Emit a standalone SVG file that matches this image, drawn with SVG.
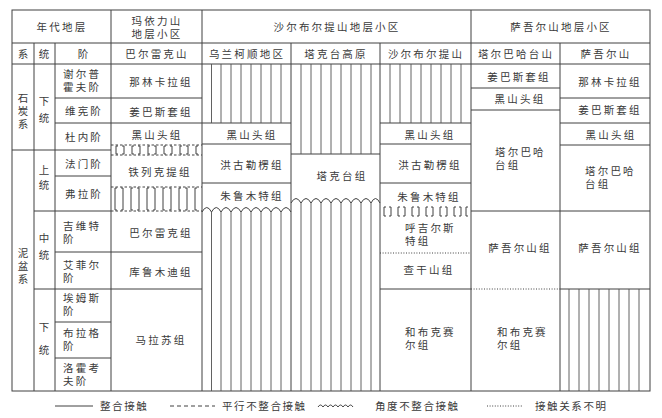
<svg xmlns="http://www.w3.org/2000/svg" width="662" height="418" viewBox="0 0 662 418">
<style>
.t{font-family:"Liberation Serif","Noto Sans CJK SC","Noto Sans CJK JP",serif;font-size:10.5px;fill:#3a3a3a;letter-spacing:2.2px}
.m{text-anchor:middle}
.lg{letter-spacing:1.6px}
.ln{stroke:#404040;stroke-width:1;fill:none}
.h{stroke:#505050;stroke-width:0.9;fill:none}
.d{stroke:#404040;stroke-width:1;stroke-dasharray:2.5 2;fill:none}
.o{stroke:#404040;stroke-width:1;stroke-dasharray:1 1.6;fill:none}
</style>
<rect width="662" height="418" fill="#fff"/>
<g id="connectors">
  <rect class="ln" x="12" y="10" width="638" height="381"/>
  <path class="ln" d="M12,43H650M12,64H650M34,43V391M55,43V391M111,10V391M202,10V391M291,43V391M380,43V391M471,10V391M560,43V391"/>
  <path class="ln" d="M55,98H202M55,123H202M12,150H111M55,176H111M34,211H111M55,252H202M34,289H202M55,322H111M55,358H111"/>
  <path class="d" d="M111,145H202M111,155H202M111,187H202M111,211H202"/>
  <path class="ln" d="M118,146H116V154H118M122,146H124V154H122M134,146H132V154H134M138,146H140V154H138M150,146H148V154H150M154,146H156V154H154M166,146H164V154H166M170,146H172V154H170M182,146H180V154H182M186,146H188V154H186M198,146H196V154H198"/>
  <path class="ln" d="M117,188H115V210H117M121,188H123V210H121M133,188H131V210H133M137,188H139V210H137M149,188H147V210H149M153,188H155V210H153M165,188H163V210H165M169,188H171V210H169M181,188H179V210H181M185,188H187V210H185M197,188H195V210H197"/>
  <path class="ln" d="M202,123H291M202,144H291M202,183H291"/>
  <path class="h" d="M211.5,64V123M221,64V123M231,64V123M241,64V123M251,64V123M261,64V123M271,64V123M281,64V123"/>
  <path class="ln" d="M202,212Q206.75,203 211.5,212Q216.25,203 221,212Q226,203 231,212Q236,203 241,212Q246,203 251,212Q256,203 261,212Q266,203 271,212Q276,203 281,212Q286,203 291,212"/>
  <path class="h" d="M211.5,212V391M221,212V391M231,212V391M241,212V391M251,212V391M261,212V391M271,212V391M281,212V391"/>
  <path class="ln" d="M291,154H380"/>
  <path class="h" d="M301,64V154M311,64V154M321,64V154M331,64V154M341,64V154M351,64V154M361,64V154M371,64V154"/>
  <path class="ln" d="M291,203Q296,194 301,203Q306,194 311,203Q316,194 321,203Q326,194 331,203Q336,194 341,203Q346,194 351,203Q356,194 361,203Q366,194 371,203Q375.5,194 380,203"/>
  <path class="h" d="M301,203V391M311,203V391M321,203V391M331,203V391M341,203V391M351,203V391M361,203V391M371,203V391"/>
  <path class="ln" d="M380,123H471M380,144H471M380,183H471M380,289H471"/>
  <path class="h" d="M390,64V123M400,64V123M411,64V123M421,64V123M431,64V123M441,64V123M451,64V123M461,64V123"/>
  <path class="ln" d="M386,207H384V216H386M389,207H391V216H389M400,207H398V216H400M403,207H405V216H403M414,207H412V216H414M417,207H419V216H417M428,207H426V216H428M431,207H433V216H431M442,207H440V216H442M445,207H447V216H445M456,207H454V216H456M459,207H461V216H459M468,207H466V216H468"/>
  <path class="o" d="M380,253H471"/>
  <path class="ln" d="M471,88H560M471,110H560M471,211H650"/>
  <path class="o" d="M471,289H560"/>
  <path class="ln" d="M560,98H650M560,123H650M560,145H650M560,289H650"/>
  <path class="h" d="M569,289V391M579,289V391M589,289V391M599,289V391M609,289V391M619,289V391M629,289V391M639,289V391"/>
</g>
<g id="header">
  <text class="t m" x="62" y="31">年代地层</text>
  <text class="t m"><tspan x="157" y="25">玛依力山</tspan><tspan x="157" y="38">地层小区</tspan></text>
  <text class="t m" x="337" y="31">沙尔布尔提山地层小区</text>
  <text class="t m" x="561" y="31">萨吾尔山地层小区</text>
  <text class="t m" x="24" y="58">系</text>
  <text class="t m" x="45" y="58">统</text>
  <text class="t m" x="84" y="58">阶</text>
  <text class="t m" x="157" y="58">巴尔雷克山</text>
  <text class="t m" x="247" y="58">乌兰柯顺地区</text>
  <text class="t m" x="336" y="58">塔克台高原</text>
  <text class="t m" x="426" y="58">沙尔布尔提山</text>
  <text class="t m" x="516" y="58">塔尔巴哈台山</text>
  <text class="t m" x="606" y="58">萨吾尔山</text>
</g>
<g id="systems">
  <text class="t m"><tspan x="24" y="102">石</tspan><tspan x="24" y="115">炭</tspan><tspan x="24" y="128">系</tspan></text>
  <text class="t m"><tspan x="24" y="257">泥</tspan><tspan x="24" y="270">盆</tspan><tspan x="24" y="283">系</tspan></text>
</g>
<g id="series">
  <text class="t m"><tspan x="45" y="105">下</tspan><tspan x="45" y="122">统</tspan></text>
  <text class="t m"><tspan x="45" y="174">上</tspan><tspan x="45" y="189">统</tspan></text>
  <text class="t m"><tspan x="45" y="242">中</tspan><tspan x="45" y="259">统</tspan></text>
  <text class="t m"><tspan x="45" y="331">下</tspan><tspan x="45" y="354">统</tspan></text>
</g>
<g id="stages">
  <text class="t"><tspan x="63" y="78">谢尔普</tspan><tspan x="63" y="91">霍夫阶</tspan></text>
  <text class="t m" x="84" y="115">维宪阶</text>
  <text class="t m" x="84" y="141">杜内阶</text>
  <text class="t m" x="84" y="168">法门阶</text>
  <text class="t m" x="84" y="198">弗拉阶</text>
  <text class="t"><tspan x="63" y="230">吉维特</tspan><tspan x="63" y="243">阶</tspan></text>
  <text class="t"><tspan x="63" y="269">艾菲尔</tspan><tspan x="63" y="282">阶</tspan></text>
  <text class="t"><tspan x="63" y="302">埃姆斯</tspan><tspan x="63" y="315">阶</tspan></text>
  <text class="t"><tspan x="63" y="337">布拉格</tspan><tspan x="63" y="350">阶</tspan></text>
  <text class="t"><tspan x="63" y="372">洛霍考</tspan><tspan x="63" y="385">夫阶</tspan></text>
</g>
<g id="col-baerleikeshan">
  <text class="t m" x="161" y="86">那林卡拉组</text>
  <text class="t m" x="161" y="116">姜巴斯套组</text>
  <text class="t m" x="157" y="139">黑山头组</text>
  <text class="t m" x="160" y="176">铁列克提组</text>
  <text class="t m" x="161" y="237">巴尔雷克组</text>
  <text class="t m" x="161" y="276">库鲁木迪组</text>
  <text class="t m" x="161" y="344">马拉苏组</text>
</g>
<g id="col-wulankeshun">
  <text class="t m" x="252" y="139">黑山头组</text>
  <text class="t m" x="252" y="169">洪古勒楞组</text>
  <text class="t m" x="252" y="200">朱鲁木特组</text>
</g>
<g id="col-taketai">
  <text class="t m" x="342" y="180">塔克台组</text>
</g>
<g id="col-shaerbuertishan">
  <text class="t m" x="430" y="139">黑山头组</text>
  <text class="t m" x="430" y="169">洪古勒楞组</text>
  <text class="t m" x="429" y="201">朱鲁木特组</text>
  <text class="t"><tspan x="405" y="232">呼吉尔斯</tspan><tspan x="405" y="245">特组</tspan></text>
  <text class="t m" x="429" y="274">查干山组</text>
  <text class="t"><tspan x="405" y="336">和布克赛</tspan><tspan x="405" y="349">尔组</tspan></text>
</g>
<g id="col-taerbahatai">
  <text class="t m" x="519" y="81">姜巴斯套组</text>
  <text class="t m" x="520" y="103">黑山头组</text>
  <text class="t"><tspan x="495" y="156">塔尔巴哈</tspan><tspan x="495" y="169">台组</tspan></text>
  <text class="t m" x="520" y="252">萨吾尔山组</text>
  <text class="t"><tspan x="497" y="336">和布克赛</tspan><tspan x="497" y="349">尔组</tspan></text>
</g>
<g id="col-sawuershan">
  <text class="t m" x="610" y="86">那林卡拉组</text>
  <text class="t m" x="610" y="114">姜巴斯套组</text>
  <text class="t m" x="611" y="139">黑山头组</text>
  <text class="t"><tspan x="585" y="175">塔尔巴哈</tspan><tspan x="585" y="188">台组</tspan></text>
  <text class="t m" x="610" y="252">萨吾尔山组</text>
</g>
<g id="legend">
  <path class="ln" d="M55,406H93"/>
  <text class="t lg" x="100" y="410">整合接触</text>
  <path class="ln" d="M170,406H215" stroke-dasharray="4 3"/>
  <text class="t lg" x="222" y="410">平行不整合接触</text>
  <path class="ln" d="M318,407Q320.5,403 323,407Q325.5,403 328,407Q330.5,403 333,407Q335.5,403 338,407Q340.5,403 343,407Q345.5,403 348,407Q350.5,403 353,407"/>
  <text class="t lg" x="375" y="410">角度不整合接触</text>
  <path class="o" d="M487,406H522"/>
  <text class="t lg" x="535" y="410">接触关系不明</text>
</g>
</svg>
